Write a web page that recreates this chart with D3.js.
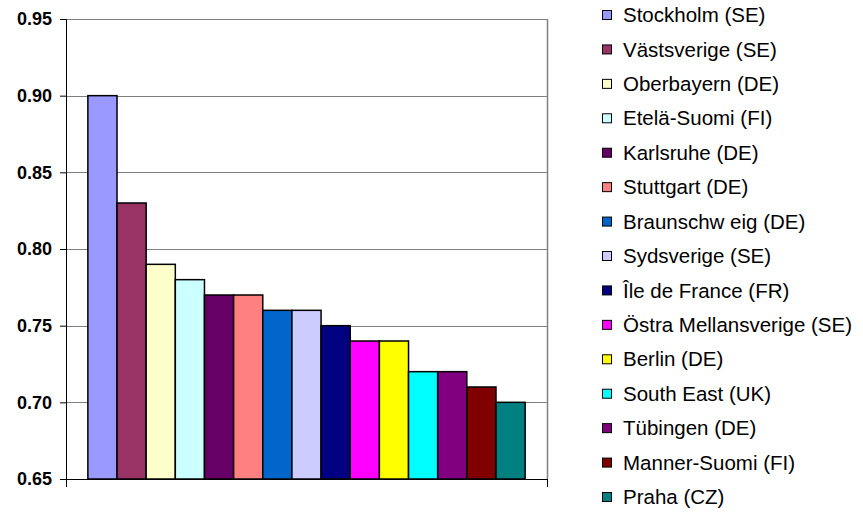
<!DOCTYPE html>
<html>
<head>
<meta charset="utf-8">
<script src="https://cdn.jsdelivr.net/npm/d3@7"></script>
<style>
  html, body { margin: 0; padding: 0; background: #fff; }
  svg { display: block; font-family: "Liberation Sans", Arial, sans-serif; }
</style>
</head>
<body>
<svg id="chart" width="863" height="514"></svg>
<script>
// Regions and their index values, sorted high to low
const regions = [
  "Stockholm (SE)", "Västsverige (SE)", "Oberbayern (DE)", "Etelä-Suomi (FI)",
  "Karlsruhe (DE)", "Stuttgart (DE)", "Braunschw eig (DE)", "Sydsverige (SE)",
  "Île de France (FR)", "Östra Mellansverige (SE)", "Berlin (DE)",
  "South East (UK)", "Tübingen (DE)", "Manner-Suomi (FI)", "Praha (CZ)"
];
const values = [0.90, 0.83, 0.79, 0.78, 0.77, 0.77, 0.76, 0.76, 0.75, 0.74, 0.74, 0.72, 0.72, 0.71, 0.70];
const colors = [
  "#9999ff", "#993366", "#ffffcc", "#ccffff", "#660066", "#ff8080", "#0066cc",
  "#ccccff", "#000080", "#ff00ff", "#ffff00", "#00ffff", "#800080", "#800000", "#008080"
];
const yTicks = [0.65, 0.70, 0.75, 0.80, 0.85, 0.90, 0.95];

const svg = d3.select("#chart");
const plot = { left: 66, right: 547, top: 19, bottom: 479 };

const y = d3.scaleLinear().domain([0.65, 0.95]).range([plot.bottom, plot.top]);
// one category holding all series, with a 150% gap split on both sides
const x = d3.scaleBand().domain(regions).range([plot.left, plot.right])
  .paddingInner(0).paddingOuter(0.75);

// horizontal gridlines
svg.append("g").selectAll("line")
  .data(yTicks.slice(1))
  .join("line")
  .attr("x1", plot.left).attr("x2", plot.right)
  .attr("y1", d => Math.round(y(d)) + 0.5).attr("y2", d => Math.round(y(d)) + 0.5)
  .attr("stroke", "#808080").attr("stroke-width", 1);

// right border of the plot area
svg.append("line")
  .attr("x1", plot.right + 0.5).attr("x2", plot.right + 0.5)
  .attr("y1", plot.top).attr("y2", plot.bottom)
  .attr("stroke", "#808080").attr("stroke-width", 1.5);

// bars
svg.append("g").selectAll("rect")
  .data(values)
  .join("rect")
  .attr("x", (d, i) => x(regions[i]))
  .attr("y", d => y(d))
  .attr("width", x.bandwidth())
  .attr("height", d => plot.bottom - y(d))
  .attr("fill", (d, i) => colors[i])
  .attr("stroke", "#000").attr("stroke-width", 1.5);

// y axis
const yAxis = d3.axisLeft(y).tickValues(yTicks).tickFormat(d3.format(".2f"))
  .tickSize(6).tickPadding(8);
const gy = svg.append("g").attr("transform", `translate(${plot.left},0)`).call(yAxis);
gy.select(".domain").attr("stroke", "#000").attr("stroke-width", 1);
gy.selectAll(".tick line").attr("stroke", "#000");
gy.selectAll(".tick text").attr("font-size", 18).attr("font-weight", "bold")
  .attr("fill", "#000").attr("font-family", "Liberation Sans, Arial, sans-serif");

// x axis line with end ticks
const gx = svg.append("g");
gx.append("line")
  .attr("x1", plot.left).attr("x2", plot.right + 1)
  .attr("y1", plot.bottom + 0.5).attr("y2", plot.bottom + 0.5)
  .attr("stroke", "#000").attr("stroke-width", 1);
gx.selectAll("line.tk")
  .data([plot.left, plot.right])
  .join("line").attr("class", "tk")
  .attr("x1", d => d + 0.5).attr("x2", d => d + 0.5)
  .attr("y1", plot.bottom).attr("y2", plot.bottom + 8)
  .attr("stroke", "#000").attr("stroke-width", 1);

// legend
const legY = d3.scalePoint().domain(regions).range([15, 497]);
const leg = svg.append("g").selectAll("g")
  .data(regions)
  .join("g")
  .attr("transform", (d, i) => `translate(602,${legY(d)})`);
leg.append("rect")
  .attr("x", 0.5).attr("y", -4.5).attr("width", 9).attr("height", 9)
  .attr("fill", (d, i) => colors[i])
  .attr("stroke", "#000").attr("stroke-width", 1);
leg.append("text")
  .attr("x", 21).attr("y", 0).attr("dy", "0.35em")
  .attr("font-size", 20.5).attr("fill", "#000")
  .text(d => d);
</script>
</body>
</html>
